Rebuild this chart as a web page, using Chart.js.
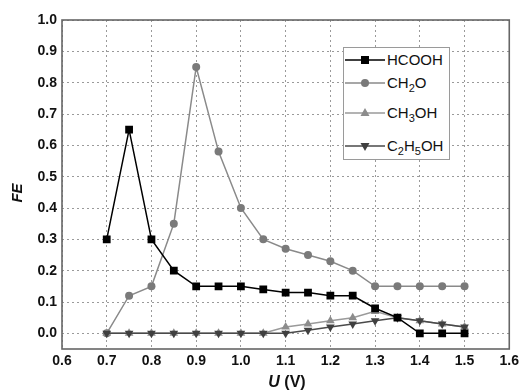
<!DOCTYPE html>
<html>
<head>
<meta charset="utf-8">
<script src="https://cdn.jsdelivr.net/npm/chart.js@4.4.0/dist/chart.umd.min.js"></script>
<style>
html,body{margin:0;padding:0;background:#fff;}
#wrap{position:relative;width:523px;height:391px;overflow:hidden;font-family:"Liberation Sans",Arial,sans-serif;background:#fff;}
#c{position:absolute;left:0;top:0;}
.legend{position:absolute;left:343px;top:47px;width:107px;height:113px;border:1px solid #9a9a9a;background:#fff;box-sizing:border-box;}
.row{position:absolute;left:1px;height:20px;display:flex;align-items:center;}
.row svg{width:40px;height:14px;margin-right:2px;flex:none;}
.row span{font-size:15px;color:#111;line-height:20px;white-space:nowrap;}
.row sub{font-size:11px;vertical-align:-4px;line-height:0;}
.ytitle{position:absolute;left:-8px;top:183px;width:50px;height:20px;line-height:20px;text-align:center;font-size:15px;font-weight:bold;font-style:italic;color:#111;transform:rotate(-90deg);}
.xtitle{position:absolute;left:237px;top:372px;width:100px;height:20px;line-height:20px;text-align:center;font-size:16px;font-weight:bold;color:#111;}
</style>
</head>
<body>
<div id="wrap">
<canvas id="c" width="523" height="391"></canvas>
<div class="ytitle">FE</div>
<div class="xtitle"><i>U</i> (V)</div>
<div class="legend">
  <div class="row" style="top:2px"><svg viewBox="0 0 40 14"><line x1="0" y1="7" x2="40" y2="7" stroke="#000" stroke-width="1.5"/><rect x="16" y="3" width="8" height="8" fill="#000"/></svg><span>HCOOH</span></div>
  <div class="row" style="top:25px"><svg viewBox="0 0 40 14"><line x1="0" y1="7" x2="40" y2="7" stroke="#8a8a8a" stroke-width="1.5"/><circle cx="20" cy="7" r="4" fill="#7a7a7a"/></svg><span>CH<sub>2</sub>O</span></div>
  <div class="row" style="top:55px"><svg viewBox="0 0 40 14"><line x1="0" y1="7" x2="40" y2="7" stroke="#9a9a9a" stroke-width="1.5"/><polygon points="20,2 24.5,10 15.5,10" fill="#8c8c8c"/></svg><span>CH<sub>3</sub>OH</span></div>
  <div class="row" style="top:88px"><svg viewBox="0 0 40 14"><line x1="0" y1="7" x2="40" y2="7" stroke="#4a4a4a" stroke-width="1.5"/><polygon points="20,12 24.5,4 15.5,4" fill="#404040"/></svg><span>C<sub>2</sub>H<sub>5</sub>OH</span></div>
</div>
</div>
<script>
// ---- data ----
const potentials = [0.7, 0.75, 0.8, 0.85, 0.9, 0.95, 1.0, 1.05, 1.1, 1.15, 1.2, 1.25, 1.3, 1.35, 1.4, 1.45, 1.5];
const feHCOOH  = [0.30, 0.65, 0.30, 0.20, 0.15, 0.15, 0.15, 0.14, 0.13, 0.13, 0.12, 0.12, 0.08, 0.05, 0.00, 0.00, 0.00];
const feCH2O   = [0.00, 0.12, 0.15, 0.35, 0.85, 0.58, 0.40, 0.30, 0.27, 0.25, 0.23, 0.20, 0.15, 0.15, 0.15, 0.15, 0.15];
const feCH3OH  = [0.00, 0.00, 0.00, 0.00, 0.00, 0.00, 0.00, 0.00, 0.02, 0.03, 0.04, 0.05, 0.07, 0.05, 0.04, 0.03, 0.02];
const feC2H5OH = [0.00, 0.00, 0.00, 0.00, 0.00, 0.00, 0.00, 0.00, 0.00, 0.01, 0.02, 0.03, 0.04, 0.05, 0.04, 0.03, 0.02];
const seriesNames = ['HCOOH', 'CH₂O', 'CH₃OH', 'C₂H₅OH'];
const xTickValues = [0.6, 0.7, 0.8, 0.9, 1.0, 1.1, 1.2, 1.3, 1.4, 1.5, 1.6];
const yTickValues = [0.0, 0.1, 0.2, 0.3, 0.4, 0.5, 0.6, 0.7, 0.8, 0.9, 1.0];

const pts = arr => potentials.map((x, i) => ({x: x, y: arr[i]}));
const FONT = '"Liberation Sans", Arial, sans-serif';

const framePlugin = {
  id: 'frame',
  afterDatasetsDraw(chart) {
    const {ctx, chartArea: a} = chart;
    ctx.save();
    ctx.strokeStyle = '#666';
    ctx.lineWidth = 1.6;
    ctx.strokeRect(a.left, a.top, a.right - a.left, a.bottom - a.top);
    ctx.restore();
  }
};

new Chart(document.getElementById('c'), {
  type: 'scatter',
  data: {
    datasets: [
      {label: seriesNames[0], data: pts(feHCOOH), showLine: true, order: 0,
       borderColor: '#000', backgroundColor: '#000', borderWidth: 1.5,
       pointStyle: 'rect', pointRadius: 5.5, pointBorderWidth: 0, pointBackgroundColor: '#000'},
      {label: seriesNames[1], data: pts(feCH2O), showLine: true, order: 3,
       borderColor: '#8a8a8a', backgroundColor: '#7a7a7a', borderWidth: 1.5,
       pointStyle: 'circle', pointRadius: 4, pointBorderWidth: 0, pointBackgroundColor: '#7a7a7a'},
      {label: seriesNames[2], data: pts(feCH3OH), showLine: true, order: 2,
       borderColor: '#9a9a9a', backgroundColor: '#8c8c8c', borderWidth: 1.5,
       pointStyle: 'triangle', pointRadius: 5, pointBorderWidth: 0, pointBackgroundColor: '#8c8c8c'},
      {label: seriesNames[3], data: pts(feC2H5OH), showLine: true, order: 1,
       borderColor: '#4a4a4a', backgroundColor: '#404040', borderWidth: 1.5,
       pointStyle: 'triangle', pointRotation: 180, pointRadius: 5, pointBorderWidth: 0, pointBackgroundColor: '#404040'}
    ]
  },
  options: {
    responsive: false,
    animation: false,
    devicePixelRatio: 1,
    layout: {padding: {top: 20, right: 11, left: 0, bottom: 0}},
    plugins: {legend: {display: false}, tooltip: {enabled: false}},
    scales: {
      x: {
        type: 'linear', min: 0.6, max: 1.6,
        afterBuildTicks: s => { s.ticks = xTickValues.map(v => ({value: v})); },
        afterFit: s => { s.height = 42; },
        ticks: {callback: v => v.toFixed(1), autoSkip: false, maxRotation: 0, padding: 4,
                color: '#111', font: {family: FONT, size: 14, weight: 'bold'}},
        grid: {color: '#9a9a9a', lineWidth: 1, drawTicks: false},
        border: {display: false, dash: [2, 3]}
      },
      y: {
        type: 'linear', min: -0.05, max: 1.0,
        afterBuildTicks: s => { s.ticks = yTickValues.map(v => ({value: v})); },
        afterFit: s => { s.width = 62; },
        ticks: {callback: v => v.toFixed(1), autoSkip: false, padding: 5,
                color: '#111', font: {family: FONT, size: 14, weight: 'bold'}},
        grid: {color: '#9a9a9a', lineWidth: 1, drawTicks: false},
        border: {display: false, dash: [2, 3]}
      }
    }
  },
  plugins: [framePlugin]
});
</script>
</body>
</html>
